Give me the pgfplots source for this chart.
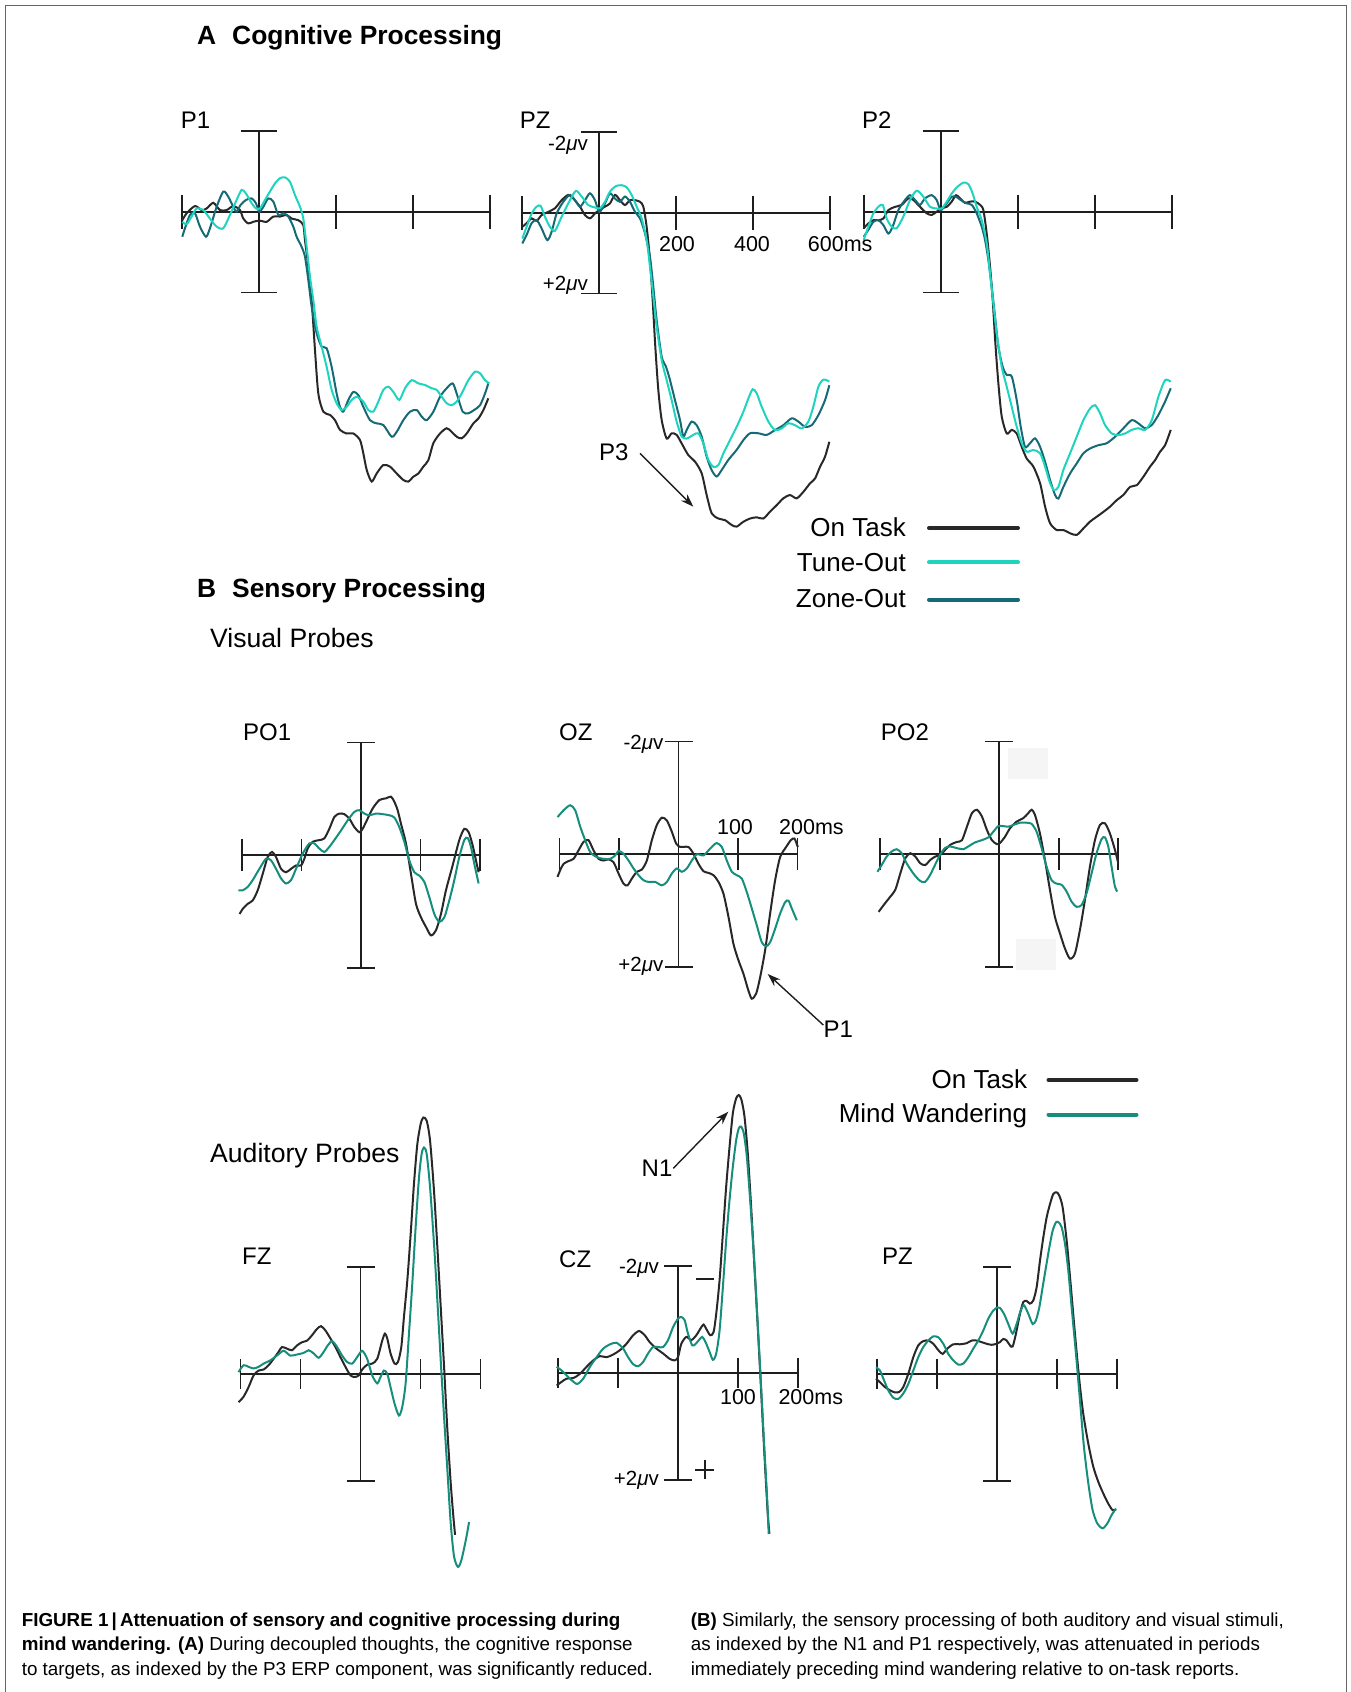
\documentclass[border=0pt]{standalone}
\usepackage{fontspec}
\setmainfont{Liberation Sans}
\usepackage{pgfplots}
\pgfplotsset{compat=1.18}
\usetikzlibrary{arrows.meta}
\definecolor{ontask}{RGB}{40,40,40}
\definecolor{tuneout}{RGB}{30,212,190}
\definecolor{zoneout}{RGB}{21,106,118}
\definecolor{mindw}{RGB}{22,142,124}
\definecolor{axcol}{RGB}{30,30,30}
\tikzset{ax/.style={draw=axcol, line width=1.7pt}}
\pgfplotsset{
  erp/.style={scale only axis, axis lines=none, clip=false, y dir=reverse, anchor=north west},
  erpA/.style={erp, width=308pt, height=161.6pt, xmin=-200, xmax=600, ymin=-2, ymax=2},
  erpV/.style={erp, width=238pt, height=225.6pt, xmin=-200, xmax=200, ymin=-2, ymax=2},
  erpU/.style={erp, width=240pt, height=214pt, xmin=-200, xmax=200, ymin=-2, ymax=2},
  curve/.style={line width=2pt, smooth, tension=0.45, no markers},
}
\newcommand{\crossA}{%
\draw[ax] (axis cs:-200,0) -- (axis cs:600,0);
\draw[ax] ([yshift=17pt]axis cs:-200,0) -- ([yshift=-17pt]axis cs:-200,0);
\draw[ax] ([yshift=17pt]axis cs:200,0) -- ([yshift=-17pt]axis cs:200,0);
\draw[ax] ([yshift=17pt]axis cs:400,0) -- ([yshift=-17pt]axis cs:400,0);
\draw[ax] ([yshift=17pt]axis cs:600,0) -- ([yshift=-17pt]axis cs:600,0);
\draw[ax] (axis cs:0,-2) -- (axis cs:0,2);
\draw[ax] ([xshift=-18pt]axis cs:0,-2) -- ([xshift=18pt]axis cs:0,-2);
\draw[ax] ([xshift=-18pt]axis cs:0,2) -- ([xshift=18pt]axis cs:0,2);
}
\newcommand{\crossB}[2]{%
\draw[ax] (axis cs:-200,0) -- (axis cs:200,0);
\draw[ax] ([yshift=#1]axis cs:-200,0) -- ([yshift=-#1]axis cs:-200,0);
\draw[ax] ([yshift=#1]axis cs:-100,0) -- ([yshift=-#1]axis cs:-100,0);
\draw[ax] ([yshift=#1]axis cs:100,0) -- ([yshift=-#1]axis cs:100,0);
\draw[ax] ([yshift=#1]axis cs:200,0) -- ([yshift=-#1]axis cs:200,0);
\draw[ax] (axis cs:0,-2) -- (axis cs:0,2);
\draw[ax] ([xshift=-#2]axis cs:0,-2) -- ([xshift=#2]axis cs:0,-2);
\draw[ax] ([xshift=-#2]axis cs:0,2) -- ([xshift=#2]axis cs:0,2);
}
\begin{document}
\begin{tikzpicture}
\path[use as bounding box] (0,0) rectangle (1351pt,-1692pt);

% ---------------- A: P1
\begin{axis}[erpA, at={(182.3pt,-130.9pt)}]
\crossA
\addplot[curve, ontask] coordinates {(-200,0.21)(-188.8,0.04)(-167.1,-0.14)(-149.8,-0.04)(-136.8,-0.08)(-119.5,-0.22)(-102.2,-0.04)(-84.9,-0.04)(-67.5,-0.14)(-50.2,-0.04)(-41.6,0.17)(-28.6,0.29)(-15.6,0.25)(0,0.22)(19.1,0.25)(36.4,0.12)(53.7,0.12)(71,0.08)(84,0.17)(101.3,0.21)(114.3,0.33)(118.6,0.70)(127.3,1.36)(136,2.19)(144.6,3.42)(153.3,4.50)(166.3,4.95)(183.6,5.03)(196.6,5.16)(209.6,5.40)(226.9,5.49)(244.2,5.49)(261.5,5.65)(270.2,5.98)(278.9,6.39)(291.8,6.68)(304.8,6.48)(322.2,6.27)(339.5,6.31)(356.8,6.48)(374.1,6.64)(387.1,6.68)(400.1,6.56)(413.1,6.48)(426.1,6.31)(439.1,6.15)(452.1,5.73)(469.4,5.49)(486.7,5.36)(499.7,5.45)(512.7,5.57)(525.7,5.61)(538.7,5.49)(556,5.24)(569,5.12)(582,4.91)(594.9,4.62)};
\addplot[curve, zoneout] coordinates {(-200,0.62)(-193.1,0.41)(-180.1,0.08)(-167.1,0.04)(-154.1,0.37)(-138.6,0.62)(-128.2,0.41)(-110.8,-0.12)(-93.5,-0.50)(-80.5,-0.37)(-67.5,-0.12)(-58.9,0)(-48.5,-0.17)(-34.6,-0.29)(-19.9,-0.33)(-8.7,-0.21)(0,0)(10.4,-0.12)(23.4,-0.33)(36.4,-0.25)(49.4,0.08)(62.4,0.04)(75.3,0.12)(88.3,0.37)(97,0.62)(110,0.87)(118.6,1.11)(127.3,1.69)(136,2.35)(149,3.01)(161.9,3.34)(174.9,3.38)(187.9,3.84)(200.9,4.50)(209.6,4.83)(218.2,4.95)(231.2,4.66)(244.2,4.46)(257.2,4.54)(270.2,4.83)(287.5,5.16)(304.8,5.24)(322.2,5.28)(343.8,5.57)(356.8,5.45)(374.1,5.16)(391.4,4.95)(408.8,4.91)(421.7,5.07)(434.7,5.16)(452.1,4.95)(469.4,4.58)(486.7,4.37)(502.3,4.25)(512.7,4.50)(528.3,4.95)(543,4.99)(557.7,4.91)(573.3,4.79)(586.3,4.50)(594.9,4.25)};
\addplot[curve, tuneout] coordinates {(-200,0.25)(-188.8,0.31)(-175.8,0.12)(-162.8,-0.08)(-145.5,-0.04)(-128.2,0.17)(-110.8,0.37)(-93.5,0.41)(-76.2,0.08)(-58.9,-0.29)(-45.9,-0.54)(-34.6,-0.45)(-19.9,-0.21)(-8.7,-0.08)(1.7,-0.08)(14.7,-0.29)(27.7,-0.50)(40.7,-0.70)(53.7,-0.83)(66.7,-0.85)(79.7,-0.74)(92.7,-0.41)(105.7,-0.12)(114.3,0.17)(123,0.87)(131.6,1.61)(140.3,2.19)(149,2.85)(161.9,3.34)(174.9,3.84)(187.9,4.41)(200.9,4.74)(213.9,4.91)(226.9,4.83)(239.9,4.66)(252.9,4.58)(270.2,4.70)(283.2,4.91)(296.2,4.95)(309.2,4.70)(322.2,4.41)(335.1,4.33)(348.1,4.46)(363.7,4.66)(378.4,4.37)(395.8,4.17)(413.1,4.25)(430.4,4.29)(447.7,4.37)(460.7,4.41)(473.7,4.58)(486.7,4.74)(499.7,4.79)(512.7,4.70)(525.7,4.50)(543,4.17)(560.3,3.96)(573.3,4.00)(586.3,4.17)(597.5,4.25)};
\end{axis}

% ---------------- A: PZ
\begin{axis}[erpA, at={(522.3pt,-131.9pt)}]
\crossA
\addplot[curve, ontask] coordinates {(-200,0.35)(-188.8,0.26)(-175.8,0.14)(-162.8,0.20)(-149.8,0.06)(-132.5,-0.02)(-115.2,-0.11)(-97.8,-0.31)(-80.5,-0.44)(-67.5,-0.35)(-50.2,-0.15)(-37.2,0.06)(-24.2,0.14)(-11.3,0.02)(0,-0.07)(14.7,-0.15)(27.7,-0.23)(40.7,-0.44)(53.7,-0.31)(66.7,-0.19)(79.7,-0.31)(92.7,-0.31)(105.7,-0.27)(114.3,-0.15)(123,0.35)(131.6,1.17)(138.6,2.16)(145.5,3.32)(153.3,4.39)(162,5.13)(174.9,5.59)(187.9,5.46)(200.9,5.50)(213.9,5.71)(231.2,6.00)(248.5,6.16)(265.9,6.45)(278.9,6.99)(291.8,7.44)(309.2,7.57)(326.5,7.61)(343.8,7.73)(356.8,7.77)(374.1,7.65)(391.4,7.57)(408.8,7.54)(426.1,7.57)(443.4,7.40)(460.7,7.24)(478,7.07)(495.4,6.99)(512.7,7.07)(530,6.91)(547.3,6.70)(560.3,6.58)(573.3,6.29)(586.3,6.04)(597.5,5.67)};
\addplot[curve, zoneout] coordinates {(-200,0.76)(-188.8,0.55)(-175.8,0.26)(-162.8,0.18)(-149.8,0.39)(-135.1,0.68)(-123.8,0.47)(-110.8,0.02)(-93.5,-0.27)(-76.2,-0.44)(-63.2,-0.31)(-50.2,-0.15)(-37.2,-0.31)(-24.2,-0.48)(-11.3,-0.31)(0,-0.02)(14.7,-0.23)(27.7,-0.48)(40.7,-0.35)(53.7,-0.27)(66.7,-0.40)(79.7,-0.27)(92.7,-0.02)(105.7,0.14)(118.6,0.51)(131.6,1.09)(140.3,1.83)(149,2.66)(162,3.56)(173.2,3.81)(183.6,4.14)(196.6,4.64)(209.6,5.13)(218.2,5.54)(226.9,5.38)(239.9,5.17)(252.9,5.26)(265.9,5.54)(278.9,6.04)(291.8,6.37)(304.8,6.53)(317.8,6.37)(335.1,6.12)(356.8,5.87)(374.1,5.63)(391.4,5.46)(413.1,5.46)(434.7,5.50)(456.4,5.38)(478,5.26)(499.7,5.09)(517,5.17)(534.3,5.30)(551.6,5.26)(569,5.01)(586.3,4.64)(597.5,4.27)};
\addplot[curve, tuneout] coordinates {(-200,0.64)(-188.8,0.35)(-175.8,0.02)(-162.8,-0.15)(-152.4,-0.17)(-141.2,0.10)(-128.2,0.35)(-115.2,0.45)(-97.8,0.10)(-76.2,-0.31)(-60.6,-0.54)(-45.9,-0.40)(-28.6,-0.19)(-11.3,-0.13)(1.7,-0.11)(14.7,-0.27)(27.7,-0.52)(43.3,-0.66)(58,-0.68)(71,-0.63)(84,-0.44)(97,-0.15)(110,0.14)(123,0.68)(131.6,1.34)(140.3,2.08)(149,2.82)(162,3.65)(174.9,4.14)(187.9,4.64)(200.9,5.17)(213.9,5.54)(226.9,5.59)(244.2,5.50)(257.2,5.46)(270.2,5.71)(283.2,6.12)(296.2,6.29)(309.2,6.25)(322.2,5.96)(339.5,5.63)(356.8,5.30)(374.1,4.93)(387.1,4.60)(398.4,4.37)(408.8,4.47)(421.7,4.80)(439.1,5.17)(456.4,5.38)(473.7,5.34)(491,5.21)(508.3,5.26)(525.7,5.34)(543,5.17)(556,4.80)(569,4.31)(582,4.13)(597.5,4.18)};
\end{axis}

% ---------------- A: P2
\begin{axis}[erpA, at={(863.7pt,-130.9pt)}]
\crossA
\addplot[curve, ontask] coordinates {(-200,0.41)(-187.9,0.29)(-174.9,0.21)(-161.9,0.21)(-149,0.17)(-136,-0.04)(-118.6,-0.12)(-101.3,-0.17)(-84,-0.33)(-71,-0.29)(-53.7,-0.12)(-36.4,0.04)(-23.4,0.08)(-10.4,0)(0,-0.08)(15.6,-0.12)(28.6,-0.25)(39.8,-0.41)(50.2,-0.33)(63.2,-0.22)(76.2,-0.25)(89.2,-0.25)(102.2,-0.17)(110.8,-0.04)(119.5,0.54)(128.2,1.36)(135.1,2.19)(142,3.26)(149.8,4.25)(158.5,5.07)(171.5,5.49)(184.5,5.40)(197.4,5.49)(210.4,5.82)(223.4,6.11)(240.7,6.31)(258.1,6.72)(271.1,7.30)(284,7.71)(301.4,7.88)(318.7,7.88)(336,7.96)(353.3,8.00)(370.6,7.84)(388,7.67)(405.3,7.55)(422.6,7.43)(439.9,7.30)(457.2,7.14)(474.6,7.01)(491.9,6.81)(509.2,6.77)(526.5,6.56)(543.8,6.31)(556.8,6.15)(569.8,5.94)(582.8,5.78)(597.5,5.40)};
\addplot[curve, zoneout] coordinates {(-200,0.62)(-187.9,0.45)(-174.9,0.25)(-161.9,0.21)(-149,0.33)(-136,0.54)(-124.7,0.37)(-110,-0.04)(-92.7,-0.29)(-79.7,-0.41)(-66.7,-0.29)(-53.7,-0.17)(-40.7,-0.33)(-23.4,-0.41)(-10.4,-0.29)(0,-0.04)(15.6,-0.21)(28.6,-0.37)(39.8,-0.37)(52,-0.29)(65.8,-0.21)(80.5,-0.17)(93.5,0.04)(106.5,0.37)(115.2,0.70)(123.8,1.20)(132.5,1.86)(141.2,2.60)(149.8,3.34)(161.1,3.84)(171.5,4.04)(184.5,4.08)(197.4,4.66)(207.8,5.32)(219.1,5.82)(232.1,5.73)(245.1,5.61)(258.1,5.82)(271.1,6.19)(284,6.64)(297,7.01)(305.7,7.10)(318.7,6.81)(336,6.48)(353.3,6.23)(370.6,5.98)(388,5.86)(409.6,5.78)(431.3,5.73)(452.9,5.57)(474.6,5.36)(496.2,5.16)(513.5,5.24)(530.9,5.36)(548.2,5.28)(565.5,5.03)(582.8,4.70)(597.5,4.37)};
\addplot[curve, tuneout] coordinates {(-200,0.70)(-187.9,0.37)(-174.9,0.04)(-161.9,-0.12)(-150.7,-0.17)(-140.3,0.17)(-127.3,0.37)(-114.3,0.41)(-97,0.12)(-79.7,-0.29)(-62.4,-0.52)(-45,-0.37)(-27.7,-0.12)(-10.4,-0.08)(2.6,-0.08)(15.6,-0.25)(28.6,-0.45)(41.6,-0.60)(58.9,-0.72)(71.9,-0.68)(83.1,-0.45)(93.5,-0.12)(106.5,0.21)(119.5,0.78)(128.2,1.53)(136.8,2.27)(145.5,3.01)(158.5,3.84)(171.5,4.33)(184.5,4.83)(197.4,5.32)(210.4,5.73)(223.4,5.94)(240.7,5.90)(258.1,5.98)(271.1,6.31)(284,6.72)(294.4,6.89)(305.7,6.81)(318.7,6.39)(336,5.98)(353.3,5.57)(370.6,5.16)(388,4.87)(401,4.79)(413.9,4.99)(426.9,5.28)(444.3,5.49)(461.6,5.53)(478.9,5.49)(496.2,5.40)(513.5,5.36)(530.9,5.40)(548.2,5.16)(565.5,4.58)(582.8,4.17)(597.5,4.21)};
\end{axis}

% ---------------- B visual: PO1
\begin{axis}[erpV, at={(242pt,-742.5pt)}]
\crossB{16pt}{14pt}
\addplot[curve, ontask] coordinates {(-204,1.04)(-198.8,0.95)(-190.4,0.86)(-182,0.80)(-173.6,0.62)(-165.2,0.33)(-156.8,0.03)(-149.5,-0.06)(-142.8,0.03)(-134.4,0.24)(-126,0.30)(-117.6,0.24)(-109.2,0.18)(-100.8,0.18)(-95.2,0.06)(-89.6,-0.12)(-81.2,-0.24)(-70,-0.27)(-61.6,-0.30)(-53.2,-0.47)(-44.8,-0.68)(-36.4,-0.74)(-28,-0.73)(-19.6,-0.65)(-11.2,-0.50)(-2.8,-0.41)(2.8,-0.47)(11.2,-0.65)(19.6,-0.83)(30.8,-0.98)(42,-1.01)(50.4,-1.04)(56,-0.95)(61.6,-0.80)(67.2,-0.56)(75.6,-0.21)(84,0.33)(92.4,0.86)(100.8,1.10)(109.2,1.27)(117.6,1.42)(126,1.33)(134.4,1.04)(142.8,0.62)(154,0.18)(165.2,-0.27)(173.6,-0.47)(180.9,-0.41)(187.6,-0.18)(193.2,0.09)(197.7,0.30)};
\addplot[curve, mindw] coordinates {(-206,0.62)(-198.8,0.62)(-190.4,0.56)(-182,0.44)(-170.8,0.24)(-159.6,0.06)(-151.2,0.09)(-142.8,0.24)(-134.4,0.41)(-126,0.50)(-117.6,0.44)(-109.2,0.24)(-98,-0.03)(-86.8,-0.21)(-78.4,-0.21)(-70,-0.12)(-61.6,-0.06)(-53.2,-0.15)(-44.8,-0.27)(-33.6,-0.44)(-22.4,-0.62)(-11.2,-0.77)(-2.8,-0.80)(5.6,-0.74)(14,-0.71)(25.2,-0.74)(36.4,-0.73)(47.6,-0.71)(56,-0.67)(64.4,-0.50)(72.8,-0.24)(81.2,0.09)(89.6,0.30)(98,0.36)(106.4,0.47)(114.8,0.74)(123.2,1.04)(131.6,1.18)(140,1.10)(148.4,0.80)(156.8,0.44)(165.2,0.03)(173.6,-0.27)(179.2,-0.31)(184.8,-0.15)(190.4,0.15)(197.7,0.50)};
\end{axis}

% ---------------- B visual: OZ
\begin{axis}[erpV, at={(559.5pt,-741.5pt)}]
\crossB{16pt}{14pt}
\addplot[curve, ontask] coordinates {(-203.3,0.40)(-198.8,0.28)(-193.2,0.17)(-184.8,0.12)(-176.4,0.08)(-168,-0.07)(-159.6,-0.22)(-151.2,-0.25)(-142.8,-0.07)(-134.4,0.08)(-126,0.11)(-117.6,0.09)(-109.2,0.14)(-100.8,0.34)(-92.4,0.52)(-85.7,0.55)(-78.4,0.43)(-70,0.31)(-61.6,0.27)(-53.2,0.11)(-44.8,-0.25)(-36.4,-0.52)(-28,-0.65)(-19.6,-0.60)(-11.2,-0.40)(-3.9,-0.19)(2.8,-0.13)(8.4,-0.13)(16.8,-0.13)(25.2,-0.01)(33.6,0.17)(42,0.30)(50.4,0.33)(58.8,0.37)(67.2,0.49)(75.6,0.70)(84,1.11)(92.4,1.59)(100.8,1.88)(109.2,2.12)(117.6,2.42)(123.2,2.56)(130.5,2.47)(137.2,2.18)(145.6,1.70)(154,1.05)(162.4,0.46)(170.8,0.05)(180.9,-0.13)(188.7,-0.25)(194.9,-0.28)(200.5,-0.13)};
\addplot[curve, mindw] coordinates {(-203.3,-0.66)(-193.2,-0.78)(-182,-0.87)(-173.6,-0.78)(-165.2,-0.49)(-156.8,-0.25)(-148.4,-0.04)(-137.2,0.05)(-126,0.08)(-114.8,0.08)(-106.4,0.02)(-100.8,-0.06)(-92.4,-0.01)(-84,0.11)(-75.6,0.25)(-67.2,0.37)(-58.8,0.46)(-50.4,0.49)(-39.2,0.49)(-28,0.55)(-19.6,0.49)(-11.2,0.34)(-2.8,0.25)(5.6,0.31)(14,0.25)(22.4,0.11)(30.8,0.00)(42,0.02)(50.4,-0.07)(58.8,-0.16)(64.4,-0.20)(72.8,-0.13)(81.2,0.11)(89.6,0.31)(98,0.37)(106.4,0.43)(114.8,0.67)(123.2,0.96)(131.6,1.26)(140,1.56)(147.3,1.63)(154,1.56)(162.4,1.32)(170.8,1.05)(179.2,0.85)(184.8,0.82)(190.4,0.96)(198.8,1.17)};
\end{axis}

% ---------------- B visual: PO2
\begin{axis}[erpV, at={(880.3pt,-741.5pt)}]
\fill[black!4] ([xshift=9pt,yshift=-6pt]axis cs:0,-2) rectangle ([xshift=49pt,yshift=-37pt]axis cs:0,-2);
\fill[black!4] ([xshift=17pt,yshift=28pt]axis cs:0,2) rectangle ([xshift=57pt,yshift=-3pt]axis cs:0,2);
\crossB{16pt}{14pt}
\addplot[curve, ontask] coordinates {(-202.8,1.02)(-194.4,0.90)(-183.2,0.75)(-174.8,0.63)(-166.4,0.34)(-158,0.07)(-149.6,-0.02)(-141.2,0.04)(-132.8,0.16)(-124.4,0.19)(-116,0.10)(-107.6,0.04)(-99.2,0.01)(-90.8,-0.08)(-82.4,-0.17)(-71.2,-0.22)(-62.8,-0.25)(-54.4,-0.49)(-46,-0.73)(-37.6,-0.79)(-29.2,-0.67)(-20.8,-0.43)(-12.4,-0.25)(-4,-0.18)(1.1,-0.20)(9.5,-0.31)(17.9,-0.46)(29.1,-0.58)(40.3,-0.64)(48.7,-0.73)(54.3,-0.79)(59.9,-0.70)(68.3,-0.37)(76.7,0.10)(85.1,0.63)(93.5,1.11)(101.9,1.40)(110.3,1.67)(118.7,1.85)(127.1,1.76)(135.5,1.34)(143.9,0.81)(152.3,0.22)(160.7,-0.25)(169.1,-0.52)(177.5,-0.55)(185.9,-0.37)(194.3,-0.08)(199.9,0.16)};
\addplot[curve, mindw] coordinates {(-204.9,0.31)(-197.7,0.19)(-189.3,0.04)(-180.9,-0.05)(-172.5,-0.09)(-164.1,-0.02)(-155.7,0.16)(-144.5,0.34)(-133.3,0.47)(-124.9,0.49)(-116.5,0.37)(-108.1,0.19)(-99.7,0.01)(-91.3,-0.11)(-82.9,-0.14)(-71.7,-0.11)(-60.5,-0.09)(-52.1,-0.14)(-40.9,-0.21)(-29.7,-0.25)(-18.5,-0.30)(-10.1,-0.40)(-1.7,-0.50)(6.7,-0.50)(15.1,-0.49)(23.5,-0.52)(34.7,-0.56)(45.9,-0.56)(54.3,-0.54)(62.7,-0.40)(71.1,-0.11)(79.5,0.22)(87.9,0.46)(96.3,0.52)(104.7,0.54)(113.1,0.66)(121.5,0.84)(129.9,0.93)(138.3,0.90)(146.7,0.69)(155.1,0.34)(163.5,-0.02)(171.9,-0.27)(177.5,-0.30)(183.1,-0.14)(188.7,0.22)(194.3,0.57)(198.2,0.66)};
\end{axis}

% ---------------- B auditory: FZ
\begin{axis}[erpU, at={(240.5pt,-1267.3pt)}]
\crossB{15pt}{14pt}
\addplot[curve, ontask] coordinates {(-203.3,0.52)(-195,0.42)(-186.6,0.24)(-178.2,0.02)(-169.9,-0.07)(-161.5,-0.09)(-153.2,-0.17)(-144.8,-0.29)(-136.5,-0.42)(-130.9,-0.51)(-122.5,-0.48)(-114.2,-0.45)(-105.8,-0.54)(-97.5,-0.60)(-89.1,-0.63)(-80.8,-0.73)(-72.4,-0.85)(-65.7,-0.90)(-58.5,-0.82)(-50.1,-0.67)(-41.8,-0.51)(-33.4,-0.32)(-25.1,-0.14)(-16.7,0.02)(-9.5,0.05)(-2.8,0.02)(2.8,-0.09)(11.1,-0.18)(19.5,-0.20)(27.9,-0.29)(36.2,-0.63)(40.7,-0.76)(44.6,-0.67)(50.1,-0.39)(56.8,-0.20)(62.4,-0.23)(68,-0.51)(72.4,-1.07)(78,-1.75)(83.6,-2.62)(89.1,-3.56)(94.7,-4.30)(100.3,-4.68)(104.7,-4.80)(110.3,-4.74)(115.9,-4.37)(122.5,-3.43)(128.1,-2.38)(133.7,-1.26)(139.3,-0.14)(144.8,1.04)(150.4,2.04)(154.8,2.66)(157.6,3.00)};
\addplot[curve, mindw] coordinates {(-203.3,-0.04)(-195,-0.17)(-186.6,-0.14)(-178.2,-0.11)(-169.9,-0.14)(-161.5,-0.20)(-150.4,-0.26)(-139.3,-0.35)(-128.1,-0.44)(-117,-0.35)(-105.8,-0.37)(-94.7,-0.40)(-86.3,-0.45)(-78,-0.39)(-69.6,-0.31)(-61.3,-0.42)(-54.6,-0.54)(-47.3,-0.62)(-39,-0.51)(-30.6,-0.35)(-22.3,-0.23)(-13.9,-0.20)(-5.6,-0.32)(2.8,-0.44)(11.1,-0.29)(19.5,0.02)(27.9,0.17)(33.4,0.05)(39,-0.07)(44.6,-0.01)(50.1,0.24)(56.8,0.55)(64.1,0.77)(69.6,0.61)(75.2,0.17)(80.8,-0.76)(86.3,-1.69)(91.9,-2.75)(97.5,-3.68)(101.9,-4.12)(105.8,-4.24)(110.3,-4.12)(115.9,-3.50)(122.5,-2.44)(128.1,-1.38)(133.7,-0.26)(139.3,0.80)(144.8,1.79)(150.4,2.79)(156,3.41)(162.6,3.60)(168.2,3.47)(175.5,3.10)(181,2.76)};
\end{axis}

% ---------------- B auditory: CZ
\begin{axis}[erpU, at={(558pt,-1265.7pt)}]
\crossB{15pt}{14pt}
\addplot[curve, ontask] coordinates {(-202.2,0.24)(-193.9,0.17)(-185.6,0.11)(-174.5,0.10)(-163.4,0.02)(-152.4,-0.11)(-141.3,-0.23)(-130.2,-0.31)(-119.1,-0.29)(-108,-0.34)(-97,-0.42)(-85.9,-0.54)(-74.8,-0.70)(-64.8,-0.78)(-55.4,-0.70)(-47.1,-0.57)(-36,-0.45)(-24.9,-0.36)(-13.9,-0.26)(-5.5,-0.23)(0,-0.29)(5.5,-0.54)(13.9,-0.67)(22.2,-0.61)(30.5,-0.70)(38.8,-0.85)(42.7,-0.90)(47.1,-0.82)(53.7,-0.70)(59.3,-0.76)(63.7,-1.10)(69.3,-1.73)(74.8,-2.60)(80.3,-3.48)(85.9,-4.22)(91.4,-4.85)(97,-5.13)(101.4,-5.19)(105.8,-5.10)(110.8,-4.79)(116.3,-4.10)(121.9,-3.10)(127.4,-1.98)(133,-0.85)(138.5,0.33)(144,1.52)(149.6,2.64)(152.4,3.01)};
\addplot[curve, mindw] coordinates {(-202.2,-0.11)(-193.9,-0.04)(-185.6,0.05)(-177.3,0.14)(-167.9,0.21)(-157.9,0.11)(-146.8,-0.11)(-135.7,-0.29)(-124.7,-0.45)(-113.6,-0.53)(-102.5,-0.56)(-91.4,-0.45)(-83.1,-0.29)(-74.8,-0.16)(-66.5,-0.12)(-58.2,-0.20)(-49.9,-0.36)(-41.6,-0.48)(-33.2,-0.48)(-24.9,-0.48)(-16.6,-0.61)(-8.3,-0.85)(0,-1.01)(5.5,-1.04)(11.1,-0.98)(16.6,-0.73)(23.8,-0.51)(29.4,-0.54)(34.9,-0.61)(40.4,-0.67)(46,-0.57)(52.6,-0.39)(58.2,-0.24)(63.7,-0.36)(69.3,-0.79)(74.8,-1.60)(80.3,-2.48)(85.9,-3.23)(91.4,-3.85)(97,-4.35)(101.4,-4.57)(105.3,-4.60)(109.7,-4.47)(114.7,-4.04)(120.2,-3.23)(126.3,-2.23)(131.9,-1.10)(137.4,0.02)(142.9,1.20)(148.5,2.33)(151.2,3.01)};
\end{axis}

% ---------------- B auditory: PZ
\begin{axis}[erpU, at={(877.3pt,-1266.7pt)}]
\crossB{15pt}{14pt}
\addplot[curve, ontask] coordinates {(-202.2,0.09)(-195.6,0.16)(-187.2,0.25)(-178.9,0.31)(-170.6,0.35)(-163.3,0.34)(-156.7,0.25)(-148.3,0)(-140,-0.31)(-131.7,-0.53)(-123.3,-0.61)(-115,-0.62)(-106.7,-0.56)(-98.3,-0.44)(-91.1,-0.37)(-83.3,-0.47)(-73.3,-0.55)(-62.2,-0.55)(-51.1,-0.57)(-42.8,-0.62)(-34.4,-0.62)(-26.1,-0.59)(-17.8,-0.56)(-9.4,-0.54)(-1.1,-0.56)(4.4,-0.59)(10,-0.65)(15.6,-0.62)(21.1,-0.53)(25.6,-0.51)(31.1,-0.75)(37.8,-1.12)(43.3,-1.34)(48.9,-1.36)(54.4,-1.31)(60,-1.37)(65.6,-1.62)(71.1,-2.11)(76.7,-2.55)(82.2,-2.92)(87.8,-3.17)(93.3,-3.36)(98.9,-3.39)(103.3,-3.33)(108.9,-3.11)(115.6,-2.49)(122.2,-1.68)(129.4,-0.75)(136.7,0.12)(143.3,0.75)(151.7,1.31)(160,1.74)(168.3,2.02)(176.7,2.24)(185,2.43)(192.2,2.55)(197.8,2.54)};
\addplot[curve, mindw] coordinates {(-202.2,-0.12)(-195.6,-0.06)(-188.9,0.12)(-181.7,0.31)(-173.3,0.45)(-165,0.47)(-156.7,0.37)(-148.3,0.19)(-140,-0.06)(-131.7,-0.31)(-123.3,-0.50)(-115,-0.62)(-106.7,-0.70)(-98.3,-0.68)(-90,-0.56)(-81.7,-0.37)(-73.3,-0.25)(-65,-0.17)(-56.7,-0.19)(-48.3,-0.31)(-40,-0.47)(-31.7,-0.62)(-23.3,-0.81)(-15,-1.03)(-6.7,-1.18)(0,-1.24)(4.4,-1.23)(11.1,-1.12)(18.3,-0.93)(25.6,-0.75)(32.2,-0.93)(38.9,-1.18)(44.4,-1.28)(51.7,-1.12)(58.9,-0.93)(64.4,-1.00)(70,-1.24)(75.6,-1.62)(81.1,-1.99)(86.7,-2.36)(92.2,-2.67)(97.8,-2.83)(102.2,-2.83)(107.2,-2.74)(112.8,-2.43)(118.3,-1.93)(123.9,-1.24)(131.1,-0.37)(137.8,0.50)(144.4,1.37)(151.7,2.05)(158.9,2.55)(166.7,2.80)(175.6,2.89)(183.3,2.80)(190.6,2.64)(197.8,2.52)};
\end{axis}

% ---------------- decorations, text
\begin{scope}[x=1pt,y=-1pt]
\draw[black!60, line width=1.3pt] (5.4,1700) -- (5.4,5.4) -- (1346.3,5.4) -- (1346.3,1700);
\tikzset{lab/.style={inner sep=0, anchor=base west, font=\fontsize{24}{28}\selectfont},
 ttl/.style={inner sep=0, anchor=base west, font=\fontsize{26.4}{30}\selectfont\bfseries},
 tk/.style={inner sep=0, anchor=base, font=\fontsize{21.5}{25}\selectfont},
 uv/.style={inner sep=0, anchor=base east, font=\fontsize{20.5}{24}\selectfont},
 leg/.style={inner sep=0, anchor=base east, font=\fontsize{26}{30}\selectfont},
 captxt/.style={inner sep=0, anchor=base west, font=\fontsize{18.8}{22}\selectfont}}
% section titles
\node[ttl] at (197,44.3) {A};
\node[ttl] at (232,44.3) {Cognitive Processing};
\node[ttl] at (197,597.5) {B};
\node[ttl] at (232,597.5) {Sensory Processing};
\node[lab, font=\fontsize{26.6}{30}\selectfont] at (210,647) {Visual Probes};
\node[lab, font=\fontsize{26.6}{30}\selectfont] at (210,1162.5) {Auditory Probes};
% panel names
\node[lab] at (180.7,128.3) {P1};
\node[lab] at (519.7,128.3) {PZ};
\node[lab] at (862,128.3) {P2};
\node[lab] at (243,740) {PO1};
\node[lab] at (559,740) {OZ};
\node[lab] at (880.7,740) {PO2};
\node[lab] at (242,1264.3) {FZ};
\node[lab] at (559,1267.3) {CZ};
\node[lab] at (882,1264.3) {PZ};
% PZ (A) scale labels
\node[uv] at (588,150) {-2\textit{μ}v};
\node[uv] at (588,290) {+2\textit{μ}v};
\node[tk] at (677,251.7) {200};
\node[tk] at (752,251.7) {400};
\node[tk, anchor=base west] at (807.7,251.7) {600ms};
% OZ labels
\node[uv] at (663.5,749) {-2\textit{μ}v};
\node[uv] at (663.5,971.5) {+2\textit{μ}v};
\node[tk] at (735,834) {100};
\node[tk, anchor=base west] at (779,834) {200ms};
% CZ labels
\node[uv] at (659,1273) {-2\textit{μ}v};
\node[uv] at (659,1485) {+2\textit{μ}v};
\node[tk] at (738,1404) {100};
\node[tk, anchor=base west] at (778.3,1404) {200ms};
\draw[axcol, line width=1.6pt] (696,1279) -- (714.3,1279);
\draw[axcol, line width=1.6pt] (695.3,1469.7) -- (714,1469.7);
\draw[axcol, line width=1.6pt] (704.7,1460) -- (704.7,1479.3);
% annotations
\node[lab] at (599,460) {P3};
\draw[axcol, line width=1.4pt, -{Stealth[length=13pt,width=9pt]}] (640,453.3) -- (693.3,506.7);
\node[lab] at (823.5,1037) {P1};
\draw[axcol, line width=1.4pt, -{Stealth[length=13pt,width=9pt]}] (823.3,1025) -- (767.7,974);
\node[lab] at (641.5,1176.7) {N1};
\draw[axcol, line width=1.4pt, -{Stealth[length=13pt,width=9pt]}] (673.3,1168.3) -- (728.3,1111.7);
% legend A
\node[leg] at (906,536) {On Task};
\node[leg] at (906,571) {Tune-Out};
\node[leg] at (906,607.3) {Zone-Out};
\draw[ontask, line width=4pt, line cap=round] (929,528) -- (1018,528);
\draw[tuneout, line width=4pt, line cap=round] (929,562.3) -- (1018,562.3);
\draw[zoneout, line width=4pt, line cap=round] (929,599.7) -- (1018,599.7);
% legend B
\node[leg] at (1027.3,1088) {On Task};
\node[leg] at (1027.3,1122.6) {Mind Wandering};
\draw[ontask, line width=4pt, line cap=round] (1048.5,1080) -- (1136.5,1080);
\draw[mindw, line width=4pt, line cap=round] (1048.5,1114.6) -- (1136.5,1114.6);
% caption
\node[captxt] at (21.6,1626.5) {\textbf{FIGURE 1\,|\,Attenuation of sensory and cognitive processing during}};
\node[captxt] at (21.6,1650.8) {\textbf{mind wandering. (A)} During decoupled thoughts, the cognitive response};
\node[captxt] at (21.6,1675) {to targets, as indexed by the P3 ERP component, was significantly reduced.};
\node[captxt] at (690.6,1626.5) {\textbf{(B)} Similarly, the sensory processing of both auditory and visual stimuli,};
\node[captxt] at (690.6,1650.8) {as indexed by the N1 and P1 respectively, was attenuated in periods};
\node[captxt] at (690.6,1675) {immediately preceding mind wandering relative to on-task reports.};
\end{scope}
\end{tikzpicture}
\end{document}
